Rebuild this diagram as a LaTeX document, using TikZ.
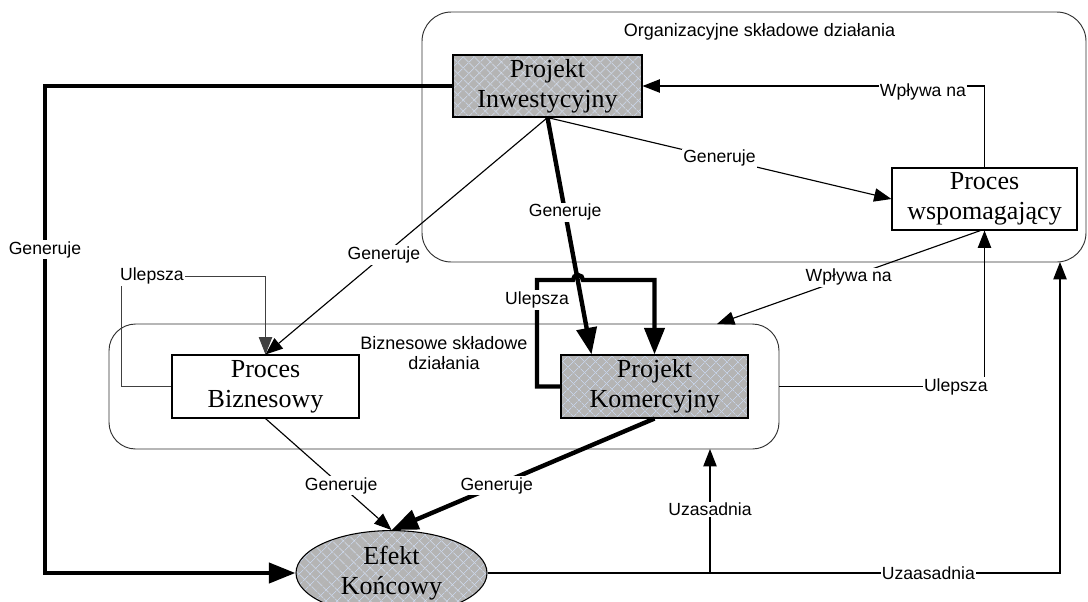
\documentclass[tikz,border=0pt]{standalone}
\usepackage{fontspec}
\setmainfont{Liberation Serif}
\setsansfont{Liberation Sans}
\usetikzlibrary{arrows.meta,shapes.geometric,patterns.meta,calc}
\definecolor{boxgray}{RGB}{180,180,180}
\definecolor{hatch}{RGB}{198,210,230}
\definecolor{frame}{RGB}{50,50,50}
\begin{document}
\begin{tikzpicture}[x=0.75pt,y=-0.75pt,
  box/.style={draw=black, line width=0.8pt, rectangle, inner sep=0pt, align=center, fill=white,
    font=\fontsize{19.5}{22.5}\selectfont},
  hatched/.style={fill=none,
    preaction={fill=boxgray},
    preaction={pattern={Lines[angle=45,distance=6.5pt,line width=0.6pt]}, pattern color=hatch},
    preaction={pattern={Lines[angle=-45,distance=6.5pt,line width=0.6pt]}, pattern color=hatch}},
  container/.style={draw=frame, line width=0.7pt, rectangle, inner sep=0pt},
  title/.style={font=\fontsize{13.5}{15}\selectfont\sffamily, align=center, inner sep=0pt},
  lab/.style={font=\fontsize{13.2}{15}\selectfont\sffamily, fill=white, inner sep=1pt},
  thinline/.style={draw=black, line width=0.85pt},
  thickline/.style={draw=black, line width=3.3pt},
  tarr/.style={-{Triangle[length=13pt,width=10pt]}},
  Tarr/.style={-{Triangle[length=20pt,width=15pt]}}
]
\useasboundingbox (0,0) rectangle (1088,601);
\fill[white] (0,0) rectangle (1088,601);

% containers
\node[container, rounded corners=22pt, minimum width=498pt, minimum height=187.5pt] (TC) at (754,137) {};
\node[container, rounded corners=20pt, minimum width=502.5pt, minimum height=93.75pt] (BC) at (444,386.5) {};
\node[title] (TCt) at (759.5,32) {Organizacyjne składowe działania};
\node[title] (BCt) at (444,353) {Biznesowe składowe\\działania};

% nodes
\node[box, hatched, minimum width=141.75pt, minimum height=46.5pt] (PI) at (547.5,86) {Projekt\\Inwestycyjny};
\node[box, minimum width=138.75pt, minimum height=46.5pt] (PW) at (984.5,199) {Proces\\wspomagający};
\node[box, minimum width=140.25pt, minimum height=47.25pt] (PB) at (265.5,386.5) {Proces\\Biznesowy};
\node[box, hatched, minimum width=140.25pt, minimum height=47.25pt] (PK) at (654.5,386.5) {Projekt\\Komercyjny};
\node[box, hatched, ellipse, minimum width=143.25pt, minimum height=48pt] (E) at (391.5,573)
  {\raisebox{-4.5pt}{\begin{tabular}{@{}c@{}}Efekt\\Końcowy\end{tabular}}};

% helper coordinates
\coordinate (g) at (45,573);
\coordinate (wt) at (717,324);
\coordinate (u1) at (710,449);
\coordinate (u2) at (1060,262);
\coordinate (c1) at (121,276);
\coordinate (d1) at (537,280);

% connectors
\draw[thickline, Tarr] (PI.west) -| node[lab, pos=0.668]{Generuje} (g) -- (E.west);
\draw[thinline, tarr] (PI.south) -- node[lab]{Generuje} (PW.west);
\draw[thinline, tarr] (PI.south) -- node[lab, pos=0.58]{Generuje} (PB.north);
\draw[thickline, Tarr] (PI.south) -- node[lab, pos=0.4]{Generuje} ([xshift=-47.25pt]PK.north);
\draw[thinline, tarr] (PW.north) |- node[lab, pos=0.59, yshift=-4.5pt]{Wpływa na} (PI.east);
\draw[thinline, tarr] ([xshift=-3pt]PW.south) -- node[lab]{Wpływa na} (wt);
\draw[thinline, tarr] (BC.east) -| node[lab, pos=0.43]{Ulepsza} (PW.south);
\draw[thinline, draw=black!75, line width=0.7pt, tarr] (PB.west) -| (c1) -| node[lab, pos=0.107]{Ulepsza} (PB.north);
\draw[thickline, Tarr] (PK.west) -| node[lab, pos=0.906]{Ulepsza} (d1) -- (573,280)
   arc[start angle=180, end angle=0, radius=3.75pt] -- (PK.north |- d1) -- (PK.north);
\draw[thinline, tarr] (PB.south) -- node[lab, pos=0.6]{Generuje} (E.north);
\draw[thickline, Tarr] (PK.south) -- node[lab, pos=0.6]{Generuje} (E.north);
\draw[thinline, tarr] (E.east) -| node[lab, pos=0.756]{Uzasadnia} (u1);
\draw[thinline, tarr] (E.east) -| node[lab, pos=0.385]{Uzaasadnia} (u2);
\end{tikzpicture}
\end{document}
